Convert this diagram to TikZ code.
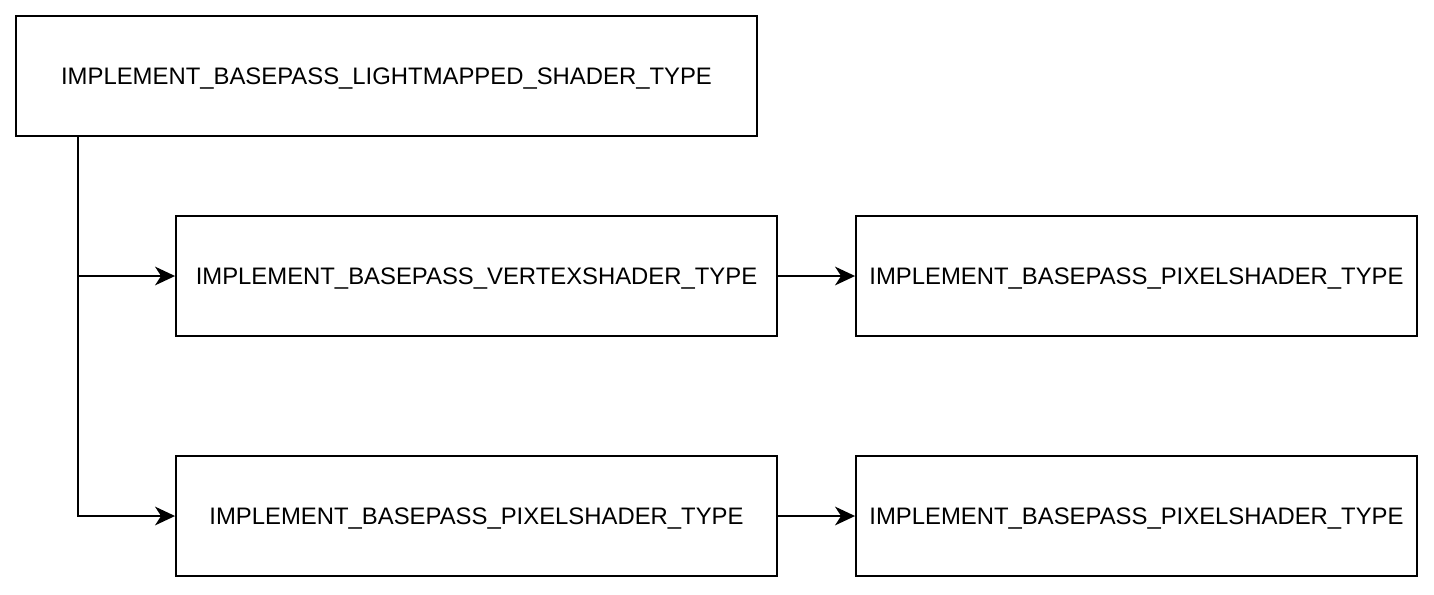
\documentclass[tikz,border=0pt]{standalone}
\usepackage{fontspec}
\setmainfont{Liberation Sans}
\usetikzlibrary{arrows.meta}
\begin{document}
\begin{tikzpicture}[
  x=0.75pt, y=-0.75pt,
  shaderbox/.style={draw, line width=1.4pt, minimum height=90pt, inner sep=0, text height=12.9pt, text depth=0pt, font=\fontsize{17.9}{20}\selectfont},
  wide/.style={shaderbox, minimum width=555.75pt},
  mid/.style={shaderbox, minimum width=450.75pt},
  narrow/.style={shaderbox, minimum width=420.75pt},
  link/.style={draw, line width=1.4pt, -{Stealth[length=15pt, width=14pt, inset=4.5pt]}}
]
\useasboundingbox (0,0) rectangle (1434,594);
\node[wide]   (lightmapped) at (386.5, 76)  {IMPLEMENT\_BASEPASS\_LIGHTMAPPED\_SHADER\_TYPE};
\node[mid]    (vertex)      at (476.5, 276) {IMPLEMENT\_BASEPASS\_VERTEXSHADER\_TYPE};
\node[narrow] (pixelA)      at (1136.5,276) {IMPLEMENT\_BASEPASS\_PIXELSHADER\_TYPE};
\node[mid]    (pixel)       at (476.5, 516) {IMPLEMENT\_BASEPASS\_PIXELSHADER\_TYPE};
\node[narrow] (pixelB)      at (1136.5,516) {IMPLEMENT\_BASEPASS\_PIXELSHADER\_TYPE};

\coordinate (trunk) at (78, 136);
\draw[link] (trunk) |- (vertex.west);
\draw[link] (trunk) |- (pixel.west);
\draw[link] (vertex) -- (pixelA);
\draw[link] (pixel) -- (pixelB);
\end{tikzpicture}
\end{document}
